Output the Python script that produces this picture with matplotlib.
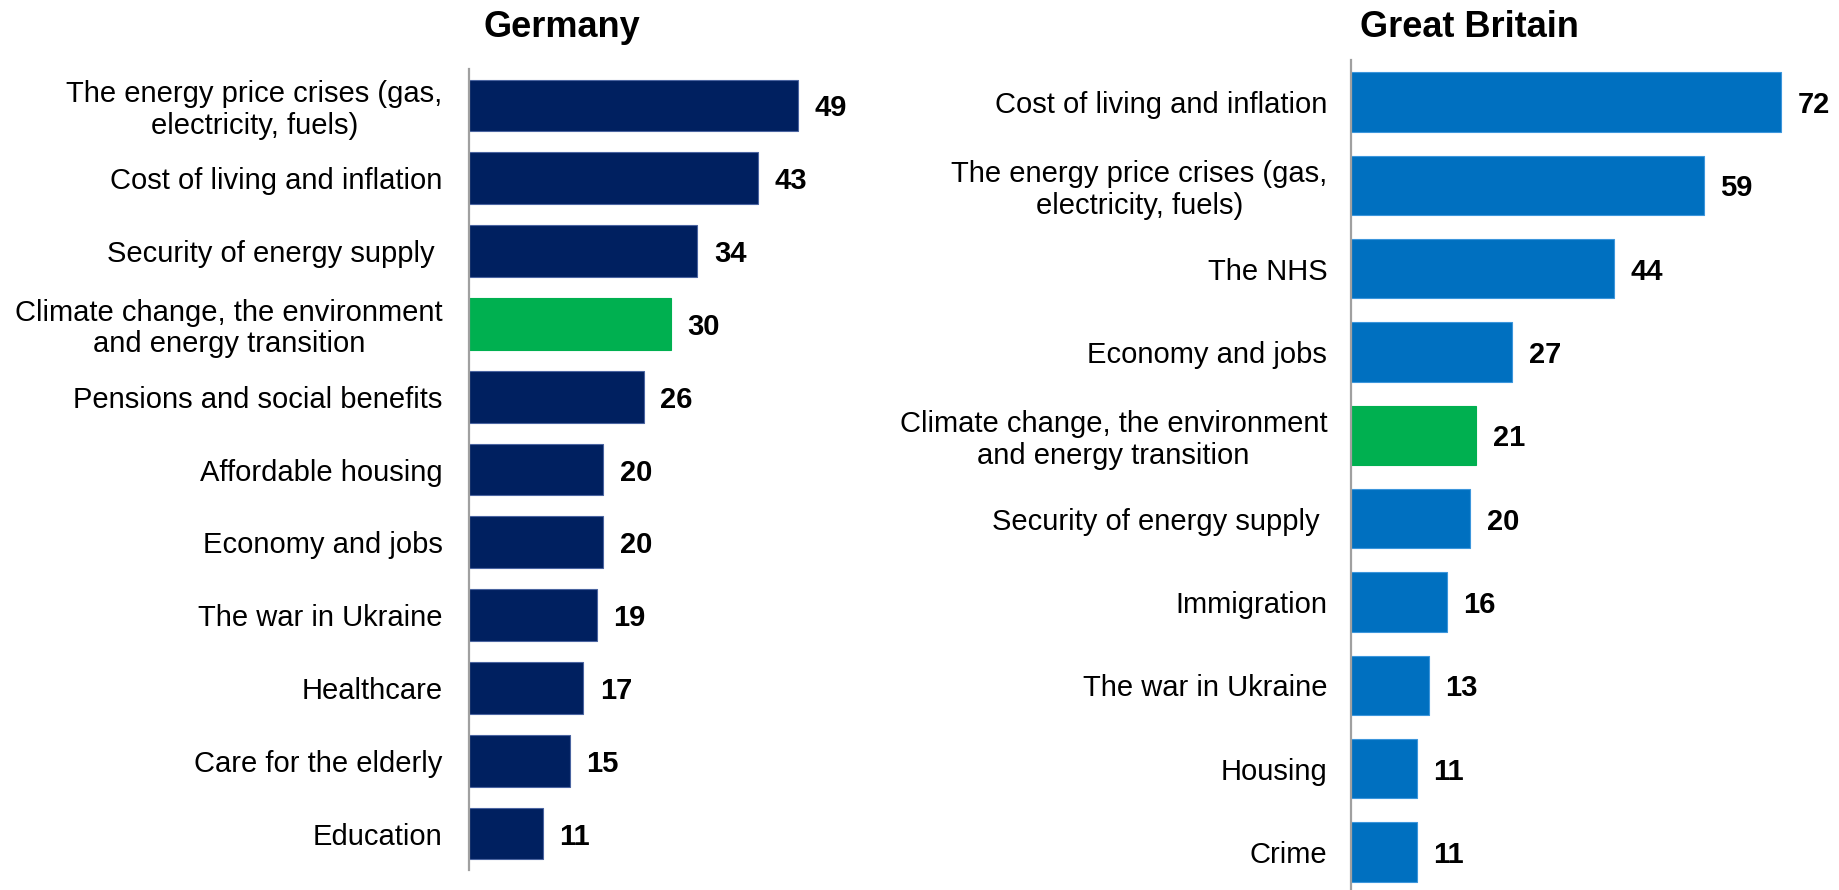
import matplotlib.pyplot as plt

plt.rcParams["font.family"] = ["Liberation Sans", "DejaVu Sans"]

# Germany: share of respondents naming each issue (%)
de_issues = [
    "The energy price crises (gas,\nelectricity, fuels)",
    "Cost of living and inflation",
    "Security of energy supply ",
    "Climate change, the environment\nand energy transition",
    "Pensions and social benefits",
    "Affordable housing",
    "Economy and jobs",
    "The war in Ukraine",
    "Healthcare",
    "Care for the elderly",
    "Education",
]
de_values = [49, 43, 34, 30, 26, 20, 20, 19, 17, 15, 11]

# Great Britain
gb_issues = [
    "Cost of living and inflation",
    "The energy price crises (gas,\nelectricity, fuels)",
    "The NHS",
    "Economy and jobs",
    "Climate change, the environment\nand energy transition",
    "Security of energy supply ",
    "Immigration",
    "The war in Ukraine",
    "Housing",
    "Crime",
]
gb_values = [72, 59, 44, 27, 21, 20, 16, 13, 11, 11]

CLIMATE = "Climate change, the environment\nand energy transition"
DE_BLUE = "#002060"
GB_BLUE = "#0070C0"
GREEN = "#00B050"
AXIS_GREY = "#A0A0A0"


def draw_panel(ax, issues, values, base_color, edge_color, xmax, pad):
    ypos = range(len(issues))
    colors = [GREEN if i == CLIMATE else base_color for i in issues]
    edges = [GREEN if i == CLIMATE else edge_color for i in issues]
    bars = ax.barh(ypos, values, height=0.71, color=colors,
                   edgecolor=edges, linewidth=0.8)
    for bar, v in zip(bars, values):
        ax.annotate(str(v), (bar.get_width(), bar.get_y() + bar.get_height() / 2),
                    xytext=(12, 0), textcoords="offset points",
                    ha="left", va="center_baseline", fontsize=21, fontweight="bold")
    ax.set_xlim(0, xmax)
    ax.set_ylim(len(issues) - 0.5, -0.5)
    ax.set_yticks(list(ypos))
    ax.set_yticklabels(issues, fontsize=21, ha="right", multialignment="center",
                       linespacing=1.15)
    ax.tick_params(axis="y", length=0, pad=pad)
    ax.set_xticks([])
    for side in ["top", "right", "bottom"]:
        ax.spines[side].set_visible(False)
    ax.spines["left"].set_color(AXIS_GREY)
    ax.spines["left"].set_linewidth(1.6)


fig = plt.figure(figsize=(18.39, 8.90), dpi=100)

ax_de = fig.add_axes([0.2550, 0.02247, 0.2193, 0.9])
draw_panel(ax_de, de_issues, de_values, DE_BLUE, "#4A64A0", 60, 19)

ax_gb = fig.add_axes([0.7346, -0.0042, 0.26, 0.9364])
draw_panel(ax_gb, gb_issues, gb_values, GB_BLUE, "#3C96DC", 80, 17)

fig.text(0.3056, 0.958, "Germany", ha="center", va="baseline",
         fontsize=26, fontweight="bold")
fig.text(0.7993, 0.958, "Great Britain", ha="center", va="baseline",
         fontsize=26, fontweight="bold")

fig.savefig("out.png", dpi=100, facecolor="white")
